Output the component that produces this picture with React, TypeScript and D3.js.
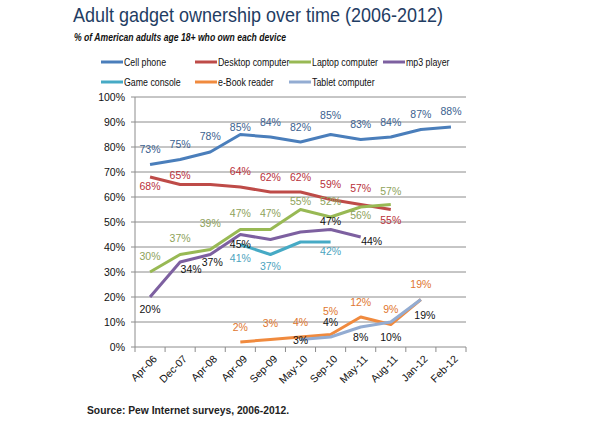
import * as d3 from 'd3'

const categories = ['Apr-06', 'Dec-07', 'Apr-08', 'Apr-09', 'Sep-09', 'May-10', 'Sep-10', 'May-11', 'Aug-11', 'Jan-12', 'Feb-12']
const cellPhone = [73, 75, 78, 85, 84, 82, 85, 83, 84, 87, 88]
const desktop = [68, 65, 65, 64, 62, 62, 59, 57, 55, null, null]
const laptop = [30, 37, 39, 47, 47, 55, 52, 56, 57, null, null]
const mp3Player = [20, 34, 37, 45, 43, 46, 47, 44, null, null, null]
const gameConsole = [null, null, null, 41, 37, 42, 42, null, null, null, null]
const eBook = [null, null, null, 2, 3, 4, 5, 12, 9, 19, null]
const tablet = [null, null, null, null, null, 3, 4, 8, 10, 19, null]
const yTicks = [0, 10, 20, 30, 40, 50, 60, 70, 80, 90, 100]

type Off = [number, number] | null

// label offsets (dx, dy) relative to each point, null = no label
const labelOffsets: Record<string, Off[]> = {
  cell: [[0, -15], [0, -15], [0, -16], [0, -7], [0, -15], [0, -15], [0, -19], [0, -15], [0, -15], [0, -15], [0, -16]],
  desktop: [[0, 9], [0, -9], null, [0, -16], [0, -15], [0, -15], [0, -15], [0, -16], [0, 11]],
  laptop: [[0, -16], [0, -16], [0, -26], [0, -16], [0, -16], [0, -8], [0, -16], [0, 8], [0, -13]],
  mp3: [[0, 12], [11, 7], [2, 8], [0, 10], null, null, [0, -8], [11, 4]],
  game: [null, null, null, [0, 14], [0, 12], null, [0, 9]],
  ebook: [null, null, null, [0, -15], [0, -16], [0, -15], [0, -23], [0, -15], [0, -15], [0, -15]],
  tablet: [null, null, null, null, null, [0, 1], [0, -15], [0, 10], [0, 15], [4, 16]],
}

const series = [
  { key: 'cell', name: 'Cell phone', values: cellPhone, color: '#4A7EBB', label: '#3B5F8F' },
  { key: 'desktop', name: 'Desktop computer', values: desktop, color: '#BE4B48', label: '#B8303A' },
  { key: 'laptop', name: 'Laptop computer', values: laptop, color: '#98B954', label: '#8EA25A' },
  { key: 'mp3', name: 'mp3 player', values: mp3Player, color: '#7D60A0', label: '#111111' },
  { key: 'game', name: 'Game console', values: gameConsole, color: '#46AAC5', label: '#4BA3BE' },
  { key: 'ebook', name: 'e-Book reader', values: eBook, color: '#F08A3E', label: '#E0762E' },
  { key: 'tablet', name: 'Tablet computer', values: tablet, color: '#93ACD2', label: '#111111' },
]

const font = "'Liberation Sans', Arial, sans-serif"

export default function App() {
  const width = 615
  const height = 424
  const left = 135
  const right = 466
  const top = 97
  const bottom = 347

  const x = d3.scaleBand<string>().domain(categories).range([left, right]).padding(0)
  const cx = (i: number) => (x(categories[i]) ?? 0) + x.bandwidth() / 2
  const y = d3.scaleLinear().domain([0, 100]).range([bottom, top])

  const line = d3.line<number | null>()
    .defined(d => d != null)
    .x((_, i) => cx(i))
    .y(d => y(d as number))

  const boundaries = categories.map(c => x(c) ?? 0).concat([right])

  return (
    <svg width={width} height={height} style={{ position: 'absolute', left: 0, top: 0, background: '#fff' }}>
      <text x={73} y={22} fontFamily={font} fontSize={21} fill="#1F3D63"
        textLength={370} lengthAdjust="spacingAndGlyphs">Adult gadget ownership over time (2006-2012)</text>
      <text x={74} y={41} fontFamily={font} fontSize={11.5} fontStyle="italic" fontWeight="bold" fill="#111"
        textLength={212} lengthAdjust="spacingAndGlyphs">% of American adults age 18+ who own each device</text>

      {series.map((s, i) => {
        const lx = 101 + (i % 4) * 94
        const ly = i < 4 ? 62 : 82
        return (
          <g key={s.key}>
            <line x1={lx} x2={lx + 22} y1={ly} y2={ly} stroke={s.color} strokeWidth={3} />
            <text transform={`translate(${lx + 23},${ly}) scale(0.8,1)`} dy="0.35em" fontFamily={font} fontSize={11} fill="#111">{s.name}</text>
          </g>
        )
      })}

      {yTicks.map(t => (
        <g key={t}>
          <line x1={left - 4} x2={right} y1={y(t)} y2={y(t)} stroke="#8c8c8c" strokeWidth={1} />
          <text x={left - 10} y={y(t)} dy="0.35em" textAnchor="end" fontFamily={font} fontSize={10.5} fill="#111">{t}%</text>
        </g>
      ))}
      <line x1={left} x2={left} y1={top} y2={bottom} stroke="#8c8c8c" strokeWidth={1} />
      {boundaries.map((b, i) => (
        <line key={i} x1={b} x2={b} y1={bottom} y2={bottom + 5} stroke="#8c8c8c" strokeWidth={1} />
      ))}
      {categories.map((c, i) => (
        <text key={c} transform={`translate(${cx(i) + 5},${bottom + 10}) rotate(-45)`} textAnchor="end" dy="0.35em"
          fontFamily={font} fontSize={10.5} fill="#111">{c}</text>
      ))}

      {series.map(s => (
        <path key={s.key} d={line(s.values) ?? ''} fill="none" stroke={s.color} strokeWidth={3} strokeLinejoin="round" />
      ))}

      {series.map(s => (
        <g key={s.key + '-labels'}>
          {s.values.map((v, i) => {
            const off = labelOffsets[s.key][i]
            if (v == null || !off) return null
            return (
              <text key={i} x={cx(i) + off[0]} y={y(v) + off[1]} dy="0.35em" textAnchor="middle"
                fontFamily={font} fontSize={10.5} fill={s.label}>{v}%</text>
            )
          })}
        </g>
      ))}

      <text x={87} y={410} dy="0.35em" fontFamily={font} fontSize={11} fontWeight="bold" fill="#222"
        textLength={202} lengthAdjust="spacingAndGlyphs">Source: Pew Internet surveys, 2006-2012.</text>
    </svg>
  )
}
